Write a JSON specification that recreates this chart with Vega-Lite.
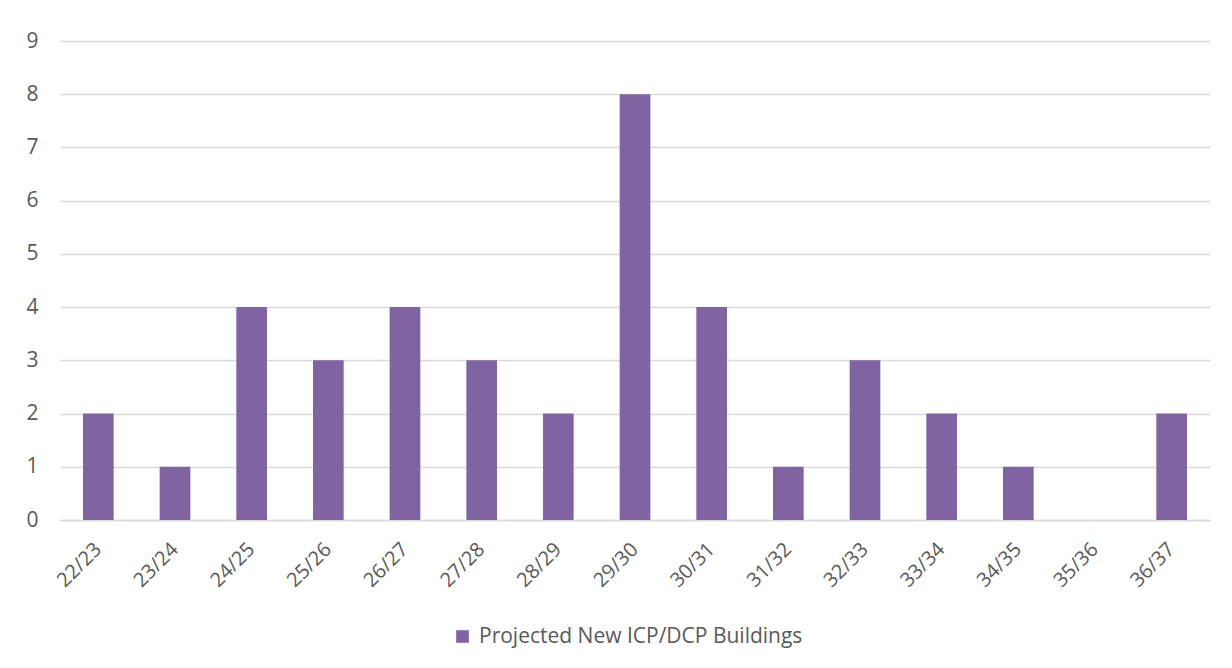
{
  "$schema": "https://vega.github.io/schema/vega-lite/v6.json",
  "autosize": {"type": "none"},
  "width": 1150,
  "height": 479,
  "padding": {"left": 60, "top": 41, "right": 22, "bottom": 148},
  "background": "white",
  "data": {
    "values": [
      {"year": "22/23", "value": 2, "series": "Projected New ICP/DCP Buildings"},
      {"year": "23/24", "value": 1, "series": "Projected New ICP/DCP Buildings"},
      {"year": "24/25", "value": 4, "series": "Projected New ICP/DCP Buildings"},
      {"year": "25/26", "value": 3, "series": "Projected New ICP/DCP Buildings"},
      {"year": "26/27", "value": 4, "series": "Projected New ICP/DCP Buildings"},
      {"year": "27/28", "value": 3, "series": "Projected New ICP/DCP Buildings"},
      {"year": "28/29", "value": 2, "series": "Projected New ICP/DCP Buildings"},
      {"year": "29/30", "value": 8, "series": "Projected New ICP/DCP Buildings"},
      {"year": "30/31", "value": 4, "series": "Projected New ICP/DCP Buildings"},
      {"year": "31/32", "value": 1, "series": "Projected New ICP/DCP Buildings"},
      {"year": "32/33", "value": 3, "series": "Projected New ICP/DCP Buildings"},
      {"year": "33/34", "value": 2, "series": "Projected New ICP/DCP Buildings"},
      {"year": "34/35", "value": 1, "series": "Projected New ICP/DCP Buildings"},
      {"year": "35/36", "value": 0, "series": "Projected New ICP/DCP Buildings"},
      {"year": "36/37", "value": 2, "series": "Projected New ICP/DCP Buildings"}
    ]
  },
  "mark": {"type": "bar"},
  "encoding": {
    "x": {
      "field": "year",
      "type": "nominal",
      "sort": null,
      "title": null,
      "scale": {"paddingInner": 0.6, "paddingOuter": 0.3},
      "axis": {
        "labelAngle": -45,
        "labelAlign": "right",
        "labelBaseline": "middle",
        "labelFont": "Open Sans",
        "labelFontSize": 20,
        "labelColor": "#595959",
        "labelPadding": 26,
        "ticks": false,
        "domainColor": "#d9d9d9",
        "domainWidth": 1.5,
        "grid": false
      }
    },
    "y": {
      "field": "value",
      "type": "quantitative",
      "title": null,
      "scale": {"domain": [0, 9]},
      "axis": {
        "values": [0, 1, 2, 3, 4, 5, 6, 7, 8, 9],
        "labelFont": "Open Sans",
        "labelFontSize": 21,
        "labelColor": "#595959",
        "labelPadding": 22,
        "ticks": false,
        "domain": false,
        "gridColor": "#d9d9d9",
        "gridWidth": 1.5
      }
    },
    "color": {
      "field": "series",
      "type": "nominal",
      "scale": {"range": ["#8064A2"]},
      "legend": {
        "title": null,
        "orient": "none",
        "legendX": 392,
        "legendY": 585,
        "direction": "horizontal",
        "symbolType": "square",
        "symbolSize": 160,
        "symbolStrokeWidth": 0,
        "labelOffset": 6,
        "labelFont": "Open Sans",
        "labelFontSize": 21,
        "labelColor": "#595959",
        "labelLimit": 0
      }
    }
  },
  "config": {
    "view": {"stroke": null}
  }
}
